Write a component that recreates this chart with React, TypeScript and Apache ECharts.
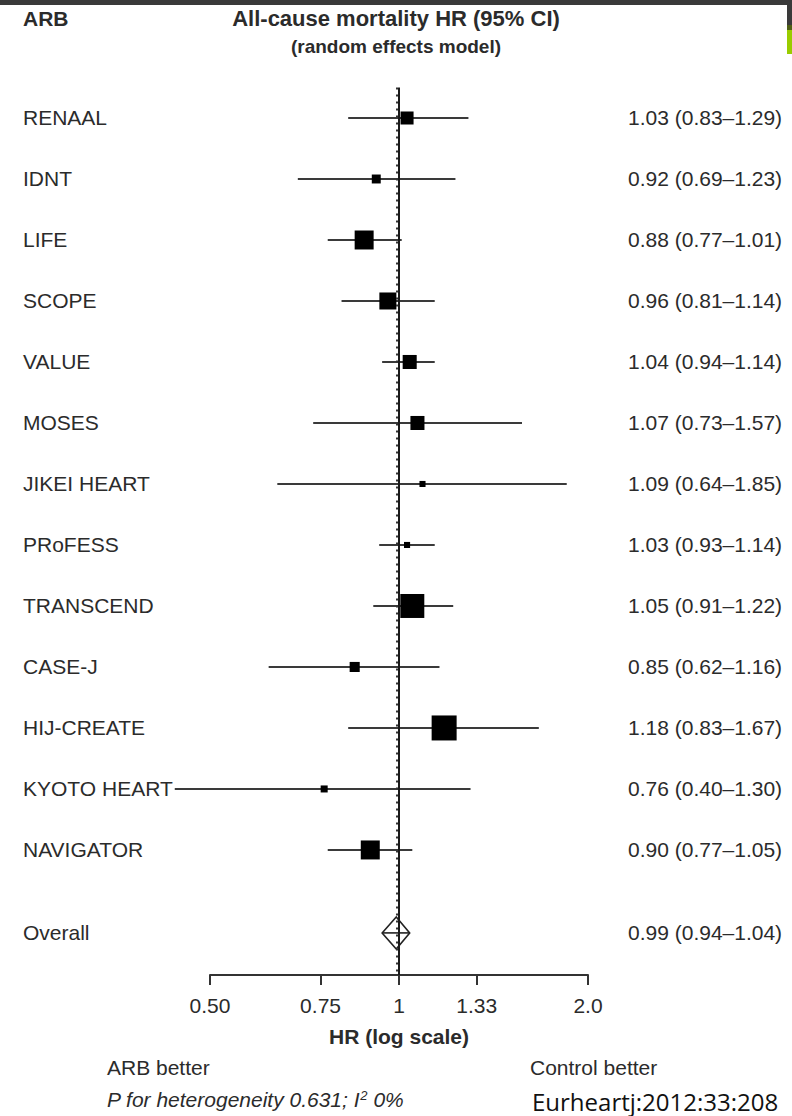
import React, { useEffect, useRef } from "react";
import * as echarts from "echarts";

// ---- data ----
const studies = [
  "RENAAL", "IDNT", "LIFE", "SCOPE", "VALUE", "MOSES", "JIKEI HEART",
  "PRoFESS", "TRANSCEND", "CASE-J", "HIJ-CREATE", "KYOTO HEART", "NAVIGATOR",
];
const hrValues = [1.03, 0.92, 0.88, 0.96, 1.04, 1.07, 1.09, 1.03, 1.05, 0.85, 1.18, 0.76, 0.90];
const lowerCI = [0.83, 0.69, 0.77, 0.81, 0.94, 0.73, 0.64, 0.93, 0.91, 0.62, 0.83, 0.40, 0.77];
const upperCI = [1.29, 1.23, 1.01, 1.14, 1.14, 1.57, 1.85, 1.14, 1.22, 1.16, 1.67, 1.30, 1.05];
// relative weights (estimated from the square areas)
const weights = [5.5, 2.6, 11.7, 9.4, 6.4, 6.4, 1.2, 1.2, 18.7, 3.3, 20.3, 1.6, 11.7];
const overallLabel = "Overall";
const overallHR = 0.99;
const overallLower = 0.94;
const overallUpper = 1.04;
const xTickValues = [0.5, 0.75, 1, 1.33, 2.0];
const xTickLabels = ["0.50", "0.75", "1", "1.33", "2.0"];

// ---- layout constants ----
const OVERALL_ROW = 13.36;
const FONT = "'Liberation Sans', Arial, Helvetica, sans-serif";
const TEXT = "#2b2b2b";
const ln = Math.log;
const fmt = (h: number, l: number, u: number) =>
  `${h.toFixed(2)} (${l.toFixed(2)}\u2013${u.toFixed(2)})`;

export default function App() {
  const ref = useRef<HTMLDivElement>(null);
  useEffect(() => {
    if (!ref.current) return;
    const chart = echarts.init(ref.current, null, { renderer: "svg" });

    const rowVals = [...studies.map((_, i) => i), OVERALL_ROW];
    const leftLabels = [...studies, overallLabel];
    const rightLabels = [
      ...studies.map((_, i) => fmt(hrValues[i], lowerCI[i], upperCI[i])),
      fmt(overallHR, overallLower, overallUpper),
    ];
    const nearestIdx = (v: number, arr: number[]) => {
      let best = 0;
      for (let i = 0; i < arr.length; i++) if (Math.abs(arr[i] - v) < Math.abs(arr[best] - v)) best = i;
      return best;
    };
    const lnTicks = xTickValues.map(ln);

    const option: any = {
      animation: false,
      backgroundColor: "#ffffff",
      grid: { left: 210, right: 204, top: 87.5, bottom: 141, containLabel: false, outerBoundsMode: "none" },
      xAxis: {
        type: "value",
        min: ln(0.5),
        max: ln(2.0),
        splitLine: { show: false },
        axisLine: { show: true, onZero: false, lineStyle: { color: "#333", width: 2 } },
        axisTick: { show: true, customValues: lnTicks, length: 10, lineStyle: { color: "#333", width: 2 } },
        axisLabel: {
          customValues: lnTicks,
          formatter: (v: number) => xTickLabels[nearestIdx(v, lnTicks)],
          fontSize: 21,
          fontFamily: FONT,
          color: TEXT,
          margin: 20,
        },
        name: "HR (log scale)",
        nameLocation: "middle",
        nameGap: 51,
        nameTextStyle: { fontSize: 21, fontWeight: "bold", fontFamily: FONT, color: TEXT },
      },
      yAxis: [
        {
          type: "value",
          inverse: true,
          min: -0.5,
          max: 14.05,
          position: "left",
          z: 5,
          splitLine: { show: false },
          axisLine: { show: false },
          axisTick: { show: false },
          axisLabel: {
            customValues: rowVals,
            formatter: (v: number) => leftLabels[nearestIdx(v, rowVals)],
            align: "left",
            margin: 187,
            fontSize: 21,
            fontFamily: FONT,
            color: TEXT,
            backgroundColor: "#ffffff",
            padding: [0, 2, 0, 0],
          },
        },
        {
          type: "value",
          inverse: true,
          min: -0.5,
          max: 14.05,
          position: "right",
          splitLine: { show: false },
          axisLine: { show: false },
          axisTick: { show: false },
          axisLabel: {
            customValues: rowVals,
            formatter: (v: number) => rightLabels[nearestIdx(v, rowVals)],
            align: "left",
            margin: 40,
            fontSize: 21,
            fontFamily: FONT,
            color: TEXT,
          },
        },
      ],
      series: [
        {
          type: "custom",
          name: "CI",
          z: 1,
          xAxisIndex: 0,
          yAxisIndex: 0,
          data: studies.map((_, i) => [ln(lowerCI[i]), ln(upperCI[i]), i]),
          encode: { x: [0, 1], y: 2 },
          renderItem: (params: any, api: any) => {
            const p1 = api.coord([api.value(0), api.value(2)]);
            const p2 = api.coord([api.value(1), api.value(2)]);
            return {
              type: "line",
              shape: { x1: p1[0], y1: p1[1], x2: p2[0], y2: p2[1] },
              style: { stroke: "#3a3a3a", lineWidth: 2 },
            };
          },
          markLine: {
            silent: true,
            symbol: "none",
            label: { show: false },
            data: [
              { xAxis: ln(1), lineStyle: { color: "#1a1a1a", width: 2, type: "solid" } },
              { xAxis: ln(overallHR), lineStyle: { color: "#333", width: 2, type: [2, 5] } },
            ],
          },
        },
        {
          type: "scatter",
          name: "HR",
          xAxisIndex: 0,
          yAxisIndex: 0,
          symbol: "rect",
          symbolSize: (val: number[]) => 5.55 * Math.sqrt(val[2]),
          itemStyle: { color: "#000", opacity: 1 },
          data: studies.map((_, i) => [ln(hrValues[i]), i, weights[i]]),
        },
        {
          type: "custom",
          name: "Overall",
          xAxisIndex: 0,
          yAxisIndex: 0,
          data: [[ln(overallLower), ln(overallHR), ln(overallUpper), OVERALL_ROW]],
          encode: { x: [0, 1, 2], y: 3 },
          renderItem: (params: any, api: any) => {
            const l = api.coord([api.value(0), api.value(3)]);
            const c = api.coord([api.value(1), api.value(3)]);
            const r = api.coord([api.value(2), api.value(3)]);
            const h = 16;
            return {
              type: "group",
              children: [
                {
                  type: "polygon",
                  shape: { points: [[l[0], l[1]], [c[0], c[1] - h], [r[0], r[1]], [c[0], c[1] + h]] },
                  style: { fill: "none", stroke: "#222", lineWidth: 1.6 },
                },
                {
                  type: "line",
                  shape: { x1: l[0], y1: l[1], x2: r[0], y2: r[1] },
                  style: { stroke: "#222", lineWidth: 1.6 },
                },
              ],
            };
          },
        },
      ],
      graphic: [
        { type: "rect", shape: { x: 0, y: 0, width: 792, height: 5 }, style: { fill: "#3a3a3a" } },
        { type: "rect", shape: { x: 787, y: 0, width: 5, height: 25 }, style: { fill: "#3a3a3a" } },
        { type: "rect", shape: { x: 787, y: 25, width: 5, height: 5 }, style: { fill: "#4f5f14" } },
        { type: "rect", shape: { x: 787, y: 30, width: 5, height: 24 }, style: { fill: "#99cc00" } },
        {
          type: "text", x: 23, y: 18,
          style: { text: "ARB", font: `bold 21px ${FONT}`, fill: TEXT, textAlign: "left", textVerticalAlign: "middle" },
        },
        {
          type: "text", x: 396, y: 18,
          style: { text: "All-cause mortality HR (95% CI)", font: `bold 22px ${FONT}`, fill: TEXT, textAlign: "center", textVerticalAlign: "middle" },
        },
        {
          type: "text", x: 396, y: 46,
          style: { text: "(random effects model)", font: `bold 19px ${FONT}`, fill: TEXT, textAlign: "center", textVerticalAlign: "middle" },
        },
        {
          type: "text", x: 107, y: 1067,
          style: { text: "ARB better", font: `21px ${FONT}`, fill: TEXT, textAlign: "left", textVerticalAlign: "middle" },
        },
        {
          type: "text", x: 530, y: 1067,
          style: { text: "Control better", font: `21px ${FONT}`, fill: TEXT, textAlign: "left", textVerticalAlign: "middle" },
        },
        {
          type: "text", x: 107, y: 1099,
          style: {
            text: "P for heterogeneity 0.631; I{sup|2} 0%",
            font: `italic 21px ${FONT}`, fill: TEXT, textAlign: "left", textVerticalAlign: "middle",
            rich: { sup: { fontSize: 13, fontStyle: "italic", fontFamily: FONT, fill: TEXT, verticalAlign: "top", padding: [0, 0, 8, 0] } },
          },
        },
        {
          type: "text", x: 532, y: 1101,
          style: { text: "Eurheartj:2012:33:208", font: `24px 'Open Sans', 'Noto Sans', sans-serif`, fill: "#111", textAlign: "left", textVerticalAlign: "middle" },
        },
      ],
    };
    chart.setOption(option);
    return () => chart.dispose();
  }, []);
  return (
    <div
      ref={ref}
      style={{ position: "absolute", left: 0, top: 0, width: 792, height: 1116, background: "#fff" }}
    />
  );
}
